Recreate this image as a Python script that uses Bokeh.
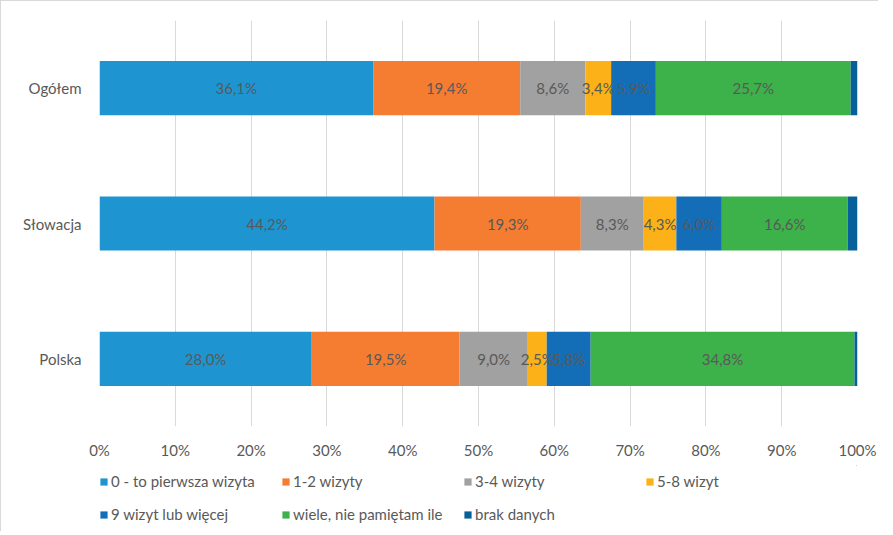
from bokeh.plotting import figure
from bokeh.layouts import column
from bokeh.models import ColumnDataSource, FactorRange, Range1d, FixedTicker, PrintfTickFormatter, Legend, LegendItem
from bokeh.embed import file_html
from bokeh.resources import INLINE
from bokeh.core.properties import value

categories = ["Ogółem", "Słowacja", "Polska"]
series = ["0 - to pierwsza wizyta", "1-2 wizyty", "3-4 wizyty", "5-8 wizyt",
          "9 wizyt lub więcej", "wiele, nie pamiętam ile", "brak danych"]
v0 = [36.1, 44.2, 28.0]
v1 = [19.4, 19.3, 19.5]
v2 = [8.6, 8.3, 9.0]
v3 = [3.4, 4.3, 2.5]
v4 = [5.9, 6.0, 5.8]
v5 = [25.7, 16.6, 34.8]
v6 = [0.9, 1.3, 0.4]
x_ticks = [0, 10, 20, 30, 40, 50, 60, 70, 80, 90, 100]

colors = ["#1E95D1", "#F57D32", "#A0A1A0", "#FBB117", "#136EB7", "#3DB14A", "#07609A"]
values = [v0, v1, v2, v3, v4, v5, v6]
keys = ["s%d" % i for i in range(len(series))]

FONT = "Lato"
TXT = "#595959"
BORDER = "1px solid #D9D9D9"

data = {"cat": categories}
for k, v in zip(keys, values):
    data[k] = v
src = ColumnDataSource(data)

p = figure(y_range=FactorRange(*categories[::-1]), x_range=Range1d(0, 100),
           frame_width=757, frame_height=405, output_backend="svg",
           toolbar_location=None, min_border_left=98, min_border_right=22,
           min_border_top=19, min_border_bottom=40)
p.styles = {"border-top": BORDER, "border-left": BORDER}

renderers = p.hbar_stack(keys, y="cat", height=0.4, color=colors, source=src,
                         line_color=None)

# data labels
cum = [0.0] * len(categories)
for i, v in enumerate(values):
    centers = [c + x / 2 for c, x in zip(cum, v)]
    cum = [c + x for c, x in zip(cum, v)]
    if i == len(values) - 1:
        continue
    lsrc = ColumnDataSource(dict(x=centers, y=categories,
                                 t=[("%.1f" % x).replace(".", ",") + "%" for x in v]))
    p.text(x="x", y="y", text="t", source=lsrc, text_align="center",
           text_baseline="middle", text_color=TXT, text_font=value(FONT),
           text_font_size="15px")

p.xgrid.ticker = FixedTicker(ticks=x_ticks)
p.xgrid.grid_line_color = "#D9D9D9"
p.ygrid.grid_line_color = None
p.outline_line_color = None

p.xaxis.ticker = FixedTicker(ticks=x_ticks)
p.xaxis.formatter = PrintfTickFormatter(format="%d%%")
for ax in (p.xaxis[0], p.yaxis[0]):
    ax.axis_line_color = None
    ax.major_tick_line_color = None
    ax.minor_tick_line_color = None
    ax.major_tick_out = 0
    ax.major_tick_in = 0
    ax.major_label_text_color = TXT
    ax.major_label_text_font = FONT
    ax.major_label_text_font_size = "15px"
p.xaxis.major_label_standoff = 14
p.yaxis.major_label_standoff = 18

# legend strip below the chart (proxy bars lie outside the visible range)
lg = figure(width=877, height=66, x_range=Range1d(0, 1), y_range=Range1d(0, 1),
            output_backend="svg", toolbar_location=None, min_border=0)
lg.styles = {"border-left": BORDER}
lg.axis.visible = False
lg.grid.visible = False
lg.outline_line_color = None
proxy = ColumnDataSource(dict(y=[5], left=[5], right=[6]))
items = []
for s, c in zip(series, colors):
    r = lg.hbar(y="y", left="left", right="right", height=0.5, color=c,
                line_color=None, source=proxy)
    items.append(LegendItem(label=s, renderers=[r]))

legend = Legend(items=items, orientation="horizontal", ncols=4)
legend.glyph_width = 9
legend.glyph_height = 9
legend.label_height = 20
legend.label_width = 157
legend.label_standoff = 3
legend.spacing = 13
legend.padding = 0
legend.margin = 0
legend.border_line_color = None
legend.background_fill_alpha = 0
legend.label_text_color = TXT
legend.label_text_font = FONT
legend.label_text_font_size = "15px"
legend.location = (0, 7)
lg.add_layout(legend, "center")

layout = column(p, lg, spacing=0)
open("out.html", "w").write(file_html(layout, INLINE))
